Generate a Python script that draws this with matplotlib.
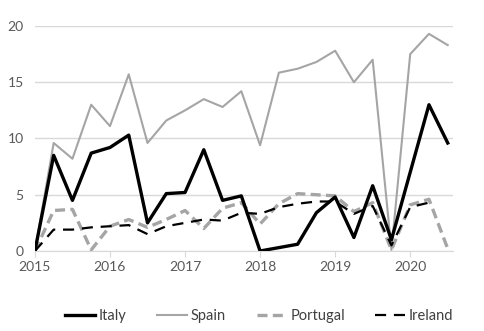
import matplotlib.pyplot as plt

# quarterly series, 2015Q1 .. 2020Q3
quarters = [2015 + 0.25 * i for i in range(23)]

italy = [0, 8.5, 4.5, 8.7, 9.2, 10.3, 2.5, 5.1, 5.2, 9.0, 4.5, 4.9,
         0.0, 0.3, 0.6, 3.4, 4.8, 1.2, 5.8, 1.0, 7.0, 13.0, 9.6]
spain = [0, 9.6, 8.2, 13.0, 11.1, 15.7, 9.6, 11.6, 12.5, 13.5, 12.8, 14.2,
         9.4, 15.85, 16.2, 16.8, 17.8, 15.0, 17.0, 0.1, 17.5, 19.3, 18.3]
portugal = [0, 3.6, 3.7, 0.1, 2.2, 2.8, 2.1, 2.8, 3.6, 2.0, 3.8, 4.3,
            2.4, 4.2, 5.1, 5.0, 4.9, 3.5, 4.3, 0.1, 4.1, 4.6, 0.2]
ireland = [0, 1.9, 1.9, 2.1, 2.2, 2.3, 1.5, 2.2, 2.5, 2.8, 2.7, 3.4,
           3.3, 3.9, 4.2, 4.4, 4.4, 3.3, 4.0, 0.5, 3.9, 4.3]

plt.rcParams["font.family"] = ["Lato", "DejaVu Sans"]

fig = plt.figure(figsize=(4.85, 3.31), dpi=100)
ax = fig.add_axes([0.072, 0.2417, 0.862, 0.6798])

ax.plot(quarters, italy, color="black", lw=2.4, label="Italy", zorder=5)
ax.plot(quarters, spain, color="#a5a5a5", lw=1.5, label="Spain", zorder=3)
ax.plot(quarters, portugal, color="#a5a5a5", lw=2.4, ls=(0, (3, 1.6)),
        label="Portugal", zorder=4)
ax.plot(quarters[:len(ireland)], ireland, color="black", lw=1.6,
        ls=(0, (5, 3.5)), label="Ireland", zorder=4)

ax.set_xlim(2015, 2020.57)
ax.set_ylim(0, 20)
ax.set_xticks([2015, 2016, 2017, 2018, 2019, 2020])
ax.set_yticks([0, 5, 10, 15, 20])
ax.grid(axis="y", color="#d9d9d9", lw=1)
ax.set_axisbelow(True)

for s in ["top", "right", "left"]:
    ax.spines[s].set_visible(False)
ax.spines["bottom"].set_color("#d9d9d9")
ax.tick_params(axis="y", length=0, pad=8, labelsize=10, labelcolor="#595959")
ax.tick_params(axis="x", length=4, color="#d9d9d9", pad=3, labelsize=10,
               labelcolor="#595959")

fig.legend(loc="lower center", bbox_to_anchor=(0.535, -0.016), ncol=4,
           frameon=False, fontsize=10.5, handlelength=2.0, handletextpad=0.3,
           columnspacing=2.1, labelcolor="#404040")

fig.savefig("out.png", dpi=100)
